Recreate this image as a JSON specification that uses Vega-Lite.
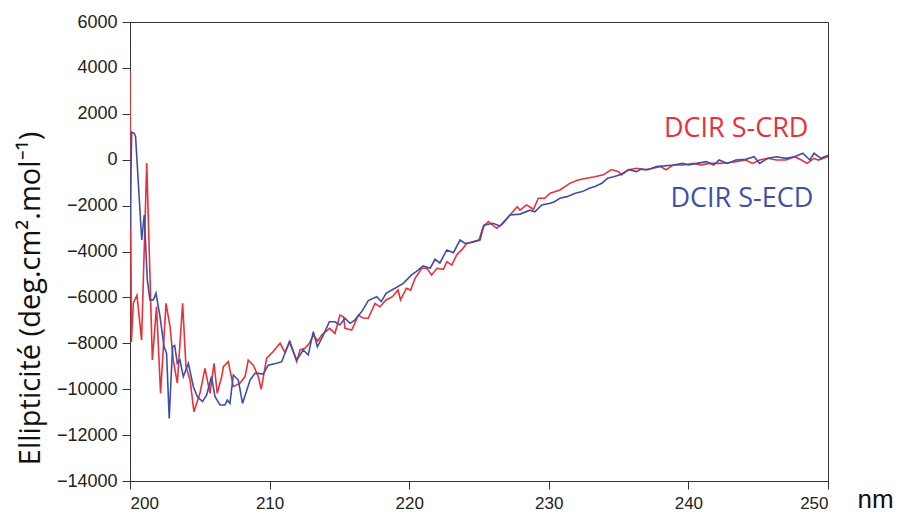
{
  "$schema": "https://vega.github.io/schema/vega-lite/v6.json",
  "width": 698,
  "height": 459,
  "autosize": {"type": "none"},
  "padding": {"left": 130, "top": 22, "right": 72, "bottom": 34},
  "background": "white",
  "config": {
    "view": {"stroke": "#333", "strokeWidth": 1},
    "axis": {"grid": false, "domainColor": "#333", "tickColor": "#333", "tickSize": 8, "labelFont": "Liberation Sans", "labelFontSize": 18, "labelColor": "#222", "titleFont": "Liberation Sans", "titleFontWeight": "normal", "titleColor": "#111"}
  },
  "datasets": {
    "spectra": [
      {"x":200.0,"y":3900,"s":"DCIR S-CRD"},{"x":200.1,"y":-7950,"s":"DCIR S-CRD"},{"x":200.24,"y":-6240,"s":"DCIR S-CRD"},{"x":200.5,"y":-5900,"s":"DCIR S-CRD"},{"x":200.83,"y":-7860,"s":"DCIR S-CRD"},{"x":201.2,"y":-150,"s":"DCIR S-CRD"},{"x":201.6,"y":-8730,"s":"DCIR S-CRD"},{"x":201.9,"y":-6400,"s":"DCIR S-CRD"},{"x":202.19,"y":-10180,"s":"DCIR S-CRD"},{"x":202.58,"y":-6260,"s":"DCIR S-CRD"},{"x":202.87,"y":-7280,"s":"DCIR S-CRD"},{"x":203.1,"y":-8730,"s":"DCIR S-CRD"},{"x":203.39,"y":-9740,"s":"DCIR S-CRD"},{"x":203.77,"y":-6260,"s":"DCIR S-CRD"},{"x":204.01,"y":-9020,"s":"DCIR S-CRD"},{"x":204.3,"y":-9600,"s":"DCIR S-CRD"},{"x":204.58,"y":-10980,"s":"DCIR S-CRD"},{"x":205.01,"y":-10180,"s":"DCIR S-CRD"},{"x":205.37,"y":-9090,"s":"DCIR S-CRD"},{"x":205.73,"y":-10180,"s":"DCIR S-CRD"},{"x":206.02,"y":-8870,"s":"DCIR S-CRD"},{"x":206.25,"y":-10180,"s":"DCIR S-CRD"},{"x":206.57,"y":-9450,"s":"DCIR S-CRD"},{"x":206.69,"y":-9020,"s":"DCIR S-CRD"},{"x":207.04,"y":-8800,"s":"DCIR S-CRD"},{"x":207.4,"y":-9890,"s":"DCIR S-CRD"},{"x":207.88,"y":-9740,"s":"DCIR S-CRD"},{"x":208.24,"y":-9450,"s":"DCIR S-CRD"},{"x":208.47,"y":-8730,"s":"DCIR S-CRD"},{"x":208.83,"y":-8950,"s":"DCIR S-CRD"},{"x":209.19,"y":-9450,"s":"DCIR S-CRD"},{"x":209.4,"y":-10000,"s":"DCIR S-CRD"},{"x":209.79,"y":-8650,"s":"DCIR S-CRD"},{"x":210.26,"y":-8360,"s":"DCIR S-CRD"},{"x":210.75,"y":-8000,"s":"DCIR S-CRD"},{"x":211.1,"y":-8400,"s":"DCIR S-CRD"},{"x":211.46,"y":-7930,"s":"DCIR S-CRD"},{"x":211.94,"y":-8800,"s":"DCIR S-CRD"},{"x":212.18,"y":-8290,"s":"DCIR S-CRD"},{"x":212.53,"y":-8220,"s":"DCIR S-CRD"},{"x":212.85,"y":-8000,"s":"DCIR S-CRD"},{"x":213.13,"y":-7640,"s":"DCIR S-CRD"},{"x":213.45,"y":-7900,"s":"DCIR S-CRD"},{"x":213.73,"y":-7640,"s":"DCIR S-CRD"},{"x":214.0,"y":-7500,"s":"DCIR S-CRD"},{"x":214.3,"y":-7350,"s":"DCIR S-CRD"},{"x":214.68,"y":-7570,"s":"DCIR S-CRD"},{"x":215.04,"y":-6770,"s":"DCIR S-CRD"},{"x":215.3,"y":-6840,"s":"DCIR S-CRD"},{"x":215.4,"y":-7350,"s":"DCIR S-CRD"},{"x":215.88,"y":-7420,"s":"DCIR S-CRD"},{"x":216.36,"y":-6770,"s":"DCIR S-CRD"},{"x":216.7,"y":-6900,"s":"DCIR S-CRD"},{"x":217.07,"y":-6910,"s":"DCIR S-CRD"},{"x":217.55,"y":-6260,"s":"DCIR S-CRD"},{"x":217.9,"y":-6410,"s":"DCIR S-CRD"},{"x":218.34,"y":-6110,"s":"DCIR S-CRD"},{"x":218.8,"y":-5970,"s":"DCIR S-CRD"},{"x":219.2,"y":-5680,"s":"DCIR S-CRD"},{"x":219.38,"y":-6110,"s":"DCIR S-CRD"},{"x":219.8,"y":-5600,"s":"DCIR S-CRD"},{"x":220.1,"y":-5680,"s":"DCIR S-CRD"},{"x":220.42,"y":-5170,"s":"DCIR S-CRD"},{"x":220.9,"y":-4730,"s":"DCIR S-CRD"},{"x":221.26,"y":-4730,"s":"DCIR S-CRD"},{"x":221.6,"y":-5020,"s":"DCIR S-CRD"},{"x":222.0,"y":-4730,"s":"DCIR S-CRD"},{"x":222.45,"y":-4780,"s":"DCIR S-CRD"},{"x":222.7,"y":-4440,"s":"DCIR S-CRD"},{"x":223.05,"y":-4590,"s":"DCIR S-CRD"},{"x":223.4,"y":-4150,"s":"DCIR S-CRD"},{"x":223.76,"y":-3930,"s":"DCIR S-CRD"},{"x":224.12,"y":-3650,"s":"DCIR S-CRD"},{"x":224.6,"y":-3570,"s":"DCIR S-CRD"},{"x":225.0,"y":-3500,"s":"DCIR S-CRD"},{"x":225.3,"y":-2920,"s":"DCIR S-CRD"},{"x":225.67,"y":-2700,"s":"DCIR S-CRD"},{"x":226.26,"y":-2990,"s":"DCIR S-CRD"},{"x":226.74,"y":-2770,"s":"DCIR S-CRD"},{"x":227.22,"y":-2410,"s":"DCIR S-CRD"},{"x":227.74,"y":-2050,"s":"DCIR S-CRD"},{"x":227.94,"y":-2200,"s":"DCIR S-CRD"},{"x":228.4,"y":-1970,"s":"DCIR S-CRD"},{"x":228.9,"y":-2160,"s":"DCIR S-CRD"},{"x":229.25,"y":-1680,"s":"DCIR S-CRD"},{"x":229.7,"y":-1680,"s":"DCIR S-CRD"},{"x":230.1,"y":-1460,"s":"DCIR S-CRD"},{"x":230.8,"y":-1320,"s":"DCIR S-CRD"},{"x":231.5,"y":-1030,"s":"DCIR S-CRD"},{"x":232.1,"y":-880,"s":"DCIR S-CRD"},{"x":232.7,"y":-810,"s":"DCIR S-CRD"},{"x":233.3,"y":-740,"s":"DCIR S-CRD"},{"x":233.9,"y":-660,"s":"DCIR S-CRD"},{"x":234.5,"y":-430,"s":"DCIR S-CRD"},{"x":235.0,"y":-520,"s":"DCIR S-CRD"},{"x":235.2,"y":-660,"s":"DCIR S-CRD"},{"x":235.7,"y":-440,"s":"DCIR S-CRD"},{"x":236.3,"y":-370,"s":"DCIR S-CRD"},{"x":236.9,"y":-440,"s":"DCIR S-CRD"},{"x":237.48,"y":-370,"s":"DCIR S-CRD"},{"x":238.0,"y":-300,"s":"DCIR S-CRD"},{"x":238.4,"y":-440,"s":"DCIR S-CRD"},{"x":238.9,"y":-230,"s":"DCIR S-CRD"},{"x":239.6,"y":-230,"s":"DCIR S-CRD"},{"x":240.35,"y":-160,"s":"DCIR S-CRD"},{"x":240.9,"y":-230,"s":"DCIR S-CRD"},{"x":241.5,"y":-160,"s":"DCIR S-CRD"},{"x":242.2,"y":-160,"s":"DCIR S-CRD"},{"x":242.8,"y":-130,"s":"DCIR S-CRD"},{"x":243.4,"y":-85,"s":"DCIR S-CRD"},{"x":244.1,"y":-15,"s":"DCIR S-CRD"},{"x":244.6,"y":-160,"s":"DCIR S-CRD"},{"x":245.1,"y":-15,"s":"DCIR S-CRD"},{"x":245.7,"y":60,"s":"DCIR S-CRD"},{"x":246.3,"y":-15,"s":"DCIR S-CRD"},{"x":247.0,"y":-15,"s":"DCIR S-CRD"},{"x":247.6,"y":130,"s":"DCIR S-CRD"},{"x":248.1,"y":-15,"s":"DCIR S-CRD"},{"x":248.5,"y":-160,"s":"DCIR S-CRD"},{"x":249.0,"y":60,"s":"DCIR S-CRD"},{"x":249.3,"y":-15,"s":"DCIR S-CRD"},{"x":250.0,"y":130,"s":"DCIR S-CRD"},
      {"x":200.0,"y":-3000,"s":"DCIR S-ECD"},{"x":200.12,"y":1200,"s":"DCIR S-ECD"},{"x":200.3,"y":1150,"s":"DCIR S-ECD"},{"x":200.4,"y":1000,"s":"DCIR S-ECD"},{"x":200.84,"y":-3500,"s":"DCIR S-ECD"},{"x":201.02,"y":-2410,"s":"DCIR S-ECD"},{"x":201.24,"y":-5240,"s":"DCIR S-ECD"},{"x":201.43,"y":-6110,"s":"DCIR S-ECD"},{"x":201.67,"y":-6110,"s":"DCIR S-ECD"},{"x":201.86,"y":-5820,"s":"DCIR S-ECD"},{"x":202.15,"y":-6840,"s":"DCIR S-ECD"},{"x":202.44,"y":-8150,"s":"DCIR S-ECD"},{"x":202.62,"y":-8440,"s":"DCIR S-ECD"},{"x":202.81,"y":-11270,"s":"DCIR S-ECD"},{"x":203.05,"y":-8150,"s":"DCIR S-ECD"},{"x":203.2,"y":-8100,"s":"DCIR S-ECD"},{"x":203.39,"y":-8870,"s":"DCIR S-ECD"},{"x":203.58,"y":-8730,"s":"DCIR S-ECD"},{"x":203.82,"y":-9450,"s":"DCIR S-ECD"},{"x":204.18,"y":-8870,"s":"DCIR S-ECD"},{"x":204.54,"y":-9890,"s":"DCIR S-ECD"},{"x":204.83,"y":-10330,"s":"DCIR S-ECD"},{"x":205.2,"y":-10540,"s":"DCIR S-ECD"},{"x":205.49,"y":-10250,"s":"DCIR S-ECD"},{"x":205.84,"y":-9450,"s":"DCIR S-ECD"},{"x":206.09,"y":-10330,"s":"DCIR S-ECD"},{"x":206.45,"y":-10690,"s":"DCIR S-ECD"},{"x":206.8,"y":-10690,"s":"DCIR S-ECD"},{"x":206.97,"y":-10470,"s":"DCIR S-ECD"},{"x":207.16,"y":-10620,"s":"DCIR S-ECD"},{"x":207.4,"y":-9380,"s":"DCIR S-ECD"},{"x":207.76,"y":-9600,"s":"DCIR S-ECD"},{"x":208.06,"y":-10620,"s":"DCIR S-ECD"},{"x":208.6,"y":-9600,"s":"DCIR S-ECD"},{"x":208.95,"y":-9310,"s":"DCIR S-ECD"},{"x":209.19,"y":-9310,"s":"DCIR S-ECD"},{"x":209.55,"y":-9340,"s":"DCIR S-ECD"},{"x":209.9,"y":-8950,"s":"DCIR S-ECD"},{"x":210.5,"y":-8870,"s":"DCIR S-ECD"},{"x":210.87,"y":-8800,"s":"DCIR S-ECD"},{"x":211.41,"y":-7930,"s":"DCIR S-ECD"},{"x":211.94,"y":-8730,"s":"DCIR S-ECD"},{"x":212.41,"y":-8290,"s":"DCIR S-ECD"},{"x":212.77,"y":-8510,"s":"DCIR S-ECD"},{"x":213.13,"y":-7490,"s":"DCIR S-ECD"},{"x":213.42,"y":-8150,"s":"DCIR S-ECD"},{"x":213.85,"y":-7640,"s":"DCIR S-ECD"},{"x":214.28,"y":-7060,"s":"DCIR S-ECD"},{"x":214.68,"y":-7060,"s":"DCIR S-ECD"},{"x":215.04,"y":-7200,"s":"DCIR S-ECD"},{"x":215.4,"y":-6910,"s":"DCIR S-ECD"},{"x":215.76,"y":-7130,"s":"DCIR S-ECD"},{"x":216.1,"y":-6990,"s":"DCIR S-ECD"},{"x":216.6,"y":-6620,"s":"DCIR S-ECD"},{"x":217.07,"y":-6140,"s":"DCIR S-ECD"},{"x":217.67,"y":-5970,"s":"DCIR S-ECD"},{"x":218.0,"y":-6180,"s":"DCIR S-ECD"},{"x":218.34,"y":-5820,"s":"DCIR S-ECD"},{"x":218.98,"y":-5600,"s":"DCIR S-ECD"},{"x":219.58,"y":-5390,"s":"DCIR S-ECD"},{"x":220.17,"y":-5020,"s":"DCIR S-ECD"},{"x":220.5,"y":-4880,"s":"DCIR S-ECD"},{"x":221.0,"y":-4630,"s":"DCIR S-ECD"},{"x":221.5,"y":-4730,"s":"DCIR S-ECD"},{"x":221.85,"y":-4340,"s":"DCIR S-ECD"},{"x":222.2,"y":-4500,"s":"DCIR S-ECD"},{"x":222.69,"y":-3930,"s":"DCIR S-ECD"},{"x":223.17,"y":-4050,"s":"DCIR S-ECD"},{"x":223.64,"y":-3500,"s":"DCIR S-ECD"},{"x":224.0,"y":-3650,"s":"DCIR S-ECD"},{"x":224.44,"y":-3610,"s":"DCIR S-ECD"},{"x":225.07,"y":-3500,"s":"DCIR S-ECD"},{"x":225.36,"y":-2850,"s":"DCIR S-ECD"},{"x":226.0,"y":-2770,"s":"DCIR S-ECD"},{"x":226.5,"y":-2890,"s":"DCIR S-ECD"},{"x":227.22,"y":-2410,"s":"DCIR S-ECD"},{"x":227.94,"y":-2370,"s":"DCIR S-ECD"},{"x":228.65,"y":-2200,"s":"DCIR S-ECD"},{"x":229.0,"y":-2270,"s":"DCIR S-ECD"},{"x":229.5,"y":-1970,"s":"DCIR S-ECD"},{"x":230.1,"y":-1900,"s":"DCIR S-ECD"},{"x":230.4,"y":-1830,"s":"DCIR S-ECD"},{"x":230.8,"y":-1680,"s":"DCIR S-ECD"},{"x":231.3,"y":-1610,"s":"DCIR S-ECD"},{"x":231.9,"y":-1460,"s":"DCIR S-ECD"},{"x":232.4,"y":-1390,"s":"DCIR S-ECD"},{"x":232.9,"y":-1240,"s":"DCIR S-ECD"},{"x":233.3,"y":-1170,"s":"DCIR S-ECD"},{"x":233.8,"y":-1030,"s":"DCIR S-ECD"},{"x":234.2,"y":-810,"s":"DCIR S-ECD"},{"x":234.65,"y":-740,"s":"DCIR S-ECD"},{"x":235.1,"y":-660,"s":"DCIR S-ECD"},{"x":235.7,"y":-440,"s":"DCIR S-ECD"},{"x":236.3,"y":-520,"s":"DCIR S-ECD"},{"x":236.6,"y":-410,"s":"DCIR S-ECD"},{"x":237.1,"y":-440,"s":"DCIR S-ECD"},{"x":237.7,"y":-300,"s":"DCIR S-ECD"},{"x":238.3,"y":-270,"s":"DCIR S-ECD"},{"x":238.9,"y":-230,"s":"DCIR S-ECD"},{"x":239.6,"y":-160,"s":"DCIR S-ECD"},{"x":240.0,"y":-230,"s":"DCIR S-ECD"},{"x":240.6,"y":-160,"s":"DCIR S-ECD"},{"x":241.3,"y":-85,"s":"DCIR S-ECD"},{"x":241.8,"y":-230,"s":"DCIR S-ECD"},{"x":242.2,"y":-15,"s":"DCIR S-ECD"},{"x":242.8,"y":-160,"s":"DCIR S-ECD"},{"x":243.4,"y":-15,"s":"DCIR S-ECD"},{"x":244.1,"y":15,"s":"DCIR S-ECD"},{"x":244.7,"y":130,"s":"DCIR S-ECD"},{"x":245.1,"y":-160,"s":"DCIR S-ECD"},{"x":245.7,"y":60,"s":"DCIR S-ECD"},{"x":246.3,"y":130,"s":"DCIR S-ECD"},{"x":247.0,"y":60,"s":"DCIR S-ECD"},{"x":247.6,"y":130,"s":"DCIR S-ECD"},{"x":248.2,"y":280,"s":"DCIR S-ECD"},{"x":248.7,"y":-15,"s":"DCIR S-ECD"},{"x":249.0,"y":280,"s":"DCIR S-ECD"},{"x":249.5,"y":60,"s":"DCIR S-ECD"},{"x":250.0,"y":200,"s":"DCIR S-ECD"}
    ],
    "labels": [
      {"x":248.6,"y":989,"s":"DCIR S-CRD"},
      {"x":248.95,"y":-2061,"s":"DCIR S-ECD"}
    ]
  },
  "layer": [
    {
      "data": {"name": "spectra"},
      "mark": {"type": "line", "strokeWidth": 1.6, "clip": true},
      "encoding": {
        "x": {"field": "x", "type": "quantitative", "scale": {"domain": [200, 250], "nice": false, "zero": false}, "axis": {"values": [200, 210, 220, 230, 240, 250], "title": "nm", "titleFontSize": 26, "titleX": 727, "titleY": 26, "titleAlign": "left", "titleBaseline": "alphabetic", "titleAnchor": null, "labelPadding": 6, "labelFontSize": 17}},
        "y": {"field": "y", "type": "quantitative", "scale": {"domain": [-14000, 6000], "nice": false, "zero": false}, "axis": {"values": [-14000, -12000, -10000, -8000, -6000, -4000, -2000, 0, 2000, 4000, 6000], "format": "d", "title": "Ellipticité (deg.cm².mol⁻¹)", "titleFont": "Open Sans", "titleFontSize": 29, "titleX": -100, "titleY": 276, "titleAngle": -90, "titleAlign": "center", "titleBaseline": "middle", "labelPadding": 5}},
        "color": {"field": "s", "type": "nominal", "scale": {"domain": ["DCIR S-CRD", "DCIR S-ECD"], "range": ["#E8313A", "#3F4FA6"]}, "legend": null},
        "detail": {"field": "s"}
      }
    },
    {
      "data": {"name": "labels"},
      "mark": {"type": "text", "font": "Open Sans", "fontSize": 27, "align": "right", "baseline": "alphabetic"},
      "encoding": {
        "x": {"field": "x", "type": "quantitative"},
        "y": {"field": "y", "type": "quantitative"},
        "text": {"field": "s"},
        "color": {"field": "s", "type": "nominal", "legend": null}
      }
    }
  ]
}
